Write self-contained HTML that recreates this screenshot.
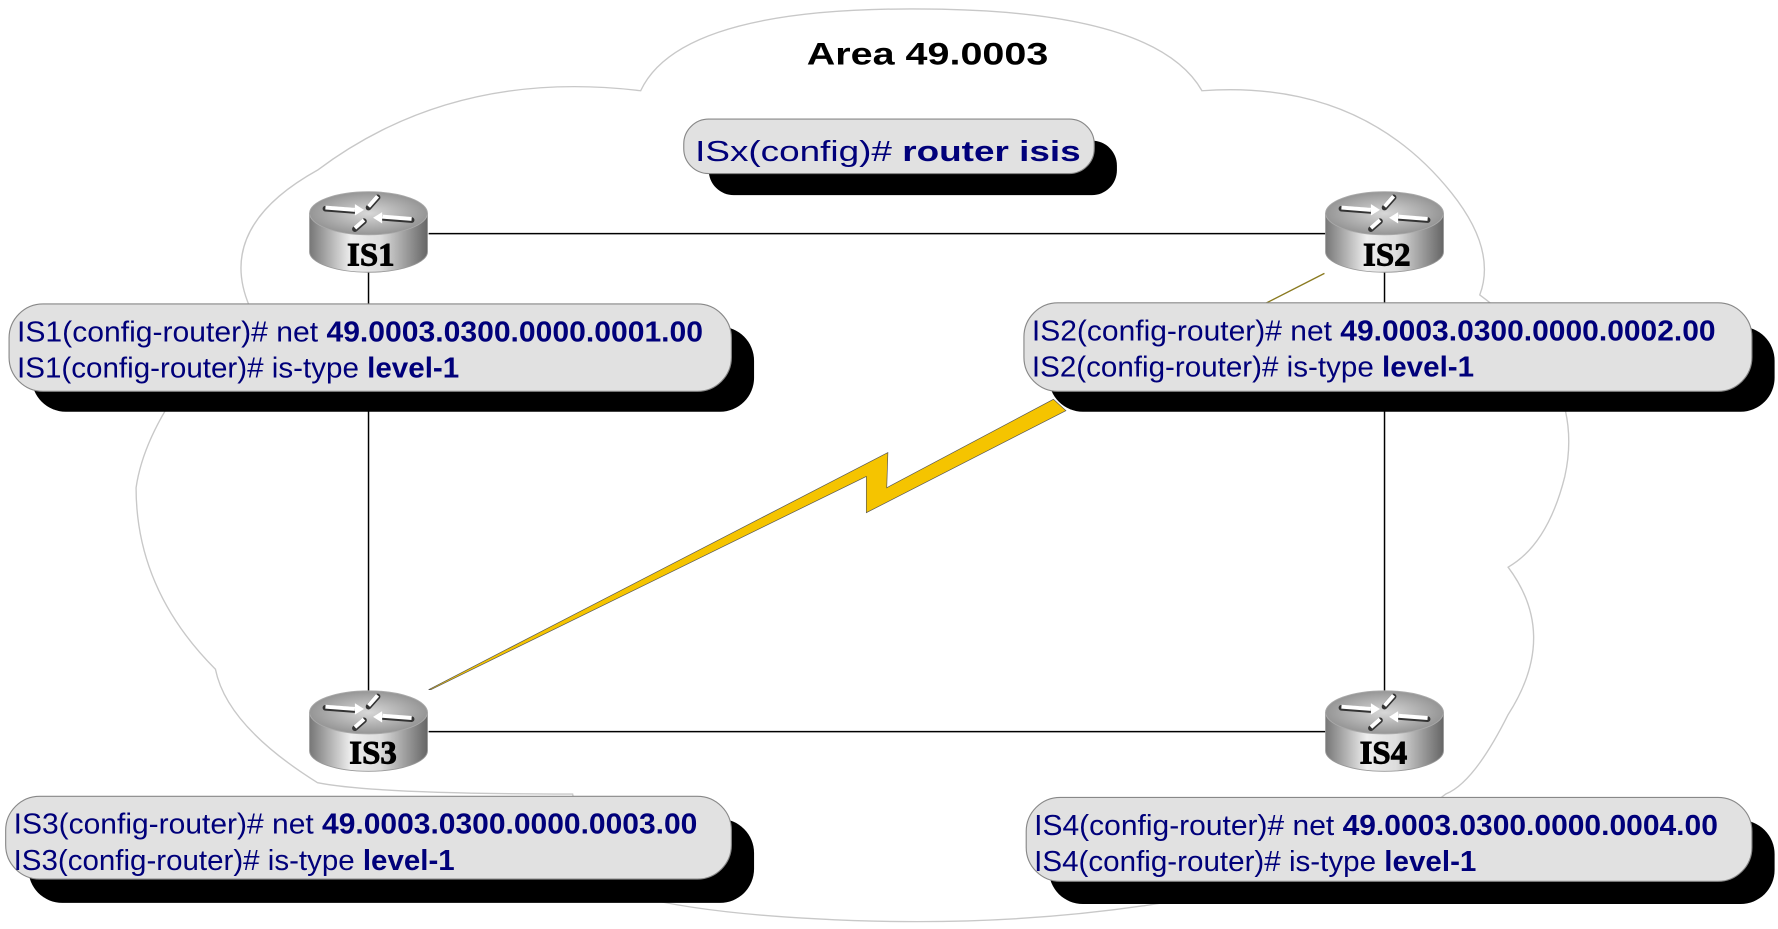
<!DOCTYPE html>
<html><head><meta charset="utf-8"><style>
html,body{margin:0;padding:0;background:#fff;}
svg{display:block;}
.t{font-family:"Liberation Sans",Arial,sans-serif;fill:#00007a;font-size:25px;}
.b{font-weight:bold;}
.r{font-family:"Liberation Serif",serif;font-weight:bold;font-size:29px;fill:#000;stroke:#000;stroke-width:0.8;text-anchor:middle;}
</style></head><body>
<svg width="1778" height="929" viewBox="0 0 1568 819" preserveAspectRatio="none" xmlns="http://www.w3.org/2000/svg">
<defs>
<linearGradient id="g" x1="0" x2="1" y1="0" y2="0">
<stop offset="0" stop-color="#777"/><stop offset="0.35" stop-color="#eee"/><stop offset="0.6" stop-color="#ddd"/><stop offset="1" stop-color="#666"/>
</linearGradient>
<radialGradient id="tg" cx="0.5" cy="0.5" r="0.6">
<stop offset="0" stop-color="#d8d8d8"/><stop offset="1" stop-color="#888"/>
</radialGradient>
<g id="rt">
<path d="M-52,-17 L-52,17 A52,18 0 0 0 52,17 L52,-17 Z" fill="url(#g)" stroke="#999" stroke-width="0.8"/>
<ellipse cx="0" cy="-17" rx="52" ry="19" fill="url(#tg)" stroke="#aaa" stroke-width="0.8"/>
<g stroke="#333" stroke-width="5" fill="none" stroke-linecap="round">
<path d="M-38,-21 L-12,-19"/><path d="M12,-13 L38,-11"/><path d="M8,-31 L0,-22"/><path d="M-4,-10 L-12,-3"/>
</g>
<g stroke="#fff" stroke-width="3.5" fill="none">
<path d="M-38,-22 L-12,-20"/><path d="M12,-14 L38,-12"/><path d="M8,-32 L0,-23"/><path d="M-4,-11 L-12,-4"/>
</g>
<g fill="#fff"><polygon points="-12,-25 -4,-20 -12,-15"/><polygon points="12,-18 4,-13 12,-8"/></g>
</g>
</defs>
<path d="M220,270 Q190,200 280,150 Q400,60 565,80 Q600,5 820,8 Q1020,10 1060,80 Q1200,70 1280,170 Q1320,220 1305,260 Q1400,330 1380,420 Q1365,480 1330,500 Q1375,560 1330,630 Q1300,690 1275,700 Q1200,760 1060,790 Q900,820 720,810 Q620,805 560,790 Q520,780 505,700 Q330,700 280,690 Q200,640 190,590 Q120,520 120,430 Q130,360 220,270 Z" fill="#fff" stroke="#c8c8c8" stroke-width="1.2"/>
<text x="818" y="57" text-anchor="middle" font-family="Liberation Sans,sans-serif" font-weight="bold" font-size="28" textLength="213" lengthAdjust="spacingAndGlyphs">Area 49.0003</text>
<g stroke="#000" stroke-width="1.3">
<line x1="378" y1="206" x2="1170" y2="206"/>
<line x1="378" y1="645" x2="1170" y2="645"/>
<line x1="325" y1="240" x2="325" y2="610"/>
<line x1="1221" y1="240" x2="1221" y2="610"/>
</g>
<line x1="1168" y1="241" x2="1115" y2="268" stroke="#8a7a20" stroke-width="1.2"/>
<polygon points="378,608 783,399 782,430 929,352 940,362 764,452 764,420 380,608" fill="#f5c400" stroke="#555" stroke-width="0.6"/>
<rect x="625" y="124" width="360" height="48" rx="22" fill="#000"/>
<rect x="603" y="105" width="362" height="48" rx="22" fill="#e1e1e1" stroke="#888" stroke-width="1"/>
<text class="t" x="613" y="142" font-size="30" textLength="340" lengthAdjust="spacingAndGlyphs">ISx(config)# <tspan class="b">router isis</tspan></text>
<rect x="28" y="288" width="637" height="75" rx="30" fill="#000"/>
<rect x="8" y="268" width="637" height="77" rx="30" fill="#e1e1e1" stroke="#888"/>
<text class="t" x="15" y="301" textLength="605" lengthAdjust="spacingAndGlyphs">IS1(config-router)# net <tspan class="b">49.0003.0300.0000.0001.00</tspan></text>
<text class="t" x="15" y="333" textLength="390" lengthAdjust="spacingAndGlyphs">IS1(config-router)# is-type <tspan class="b">level-1</tspan></text>
<rect x="925" y="288" width="640" height="75" rx="30" fill="#000"/>
<rect x="903" y="267" width="642" height="78" rx="30" fill="#e1e1e1" stroke="#888"/>
<text class="t" x="910" y="300" textLength="603" lengthAdjust="spacingAndGlyphs">IS2(config-router)# net <tspan class="b">49.0003.0300.0000.0002.00</tspan></text>
<text class="t" x="910" y="332" textLength="390" lengthAdjust="spacingAndGlyphs">IS2(config-router)# is-type <tspan class="b">level-1</tspan></text>
<rect x="25" y="722" width="640" height="74" rx="30" fill="#000"/>
<rect x="5" y="702" width="640" height="73" rx="30" fill="#e1e1e1" stroke="#888"/>
<text class="t" x="12" y="735" textLength="603" lengthAdjust="spacingAndGlyphs">IS3(config-router)# net <tspan class="b">49.0003.0300.0000.0003.00</tspan></text>
<text class="t" x="12" y="767" textLength="389" lengthAdjust="spacingAndGlyphs">IS3(config-router)# is-type <tspan class="b">level-1</tspan></text>
<rect x="925" y="723" width="640" height="74" rx="30" fill="#000"/>
<rect x="905" y="703" width="640" height="74" rx="30" fill="#e1e1e1" stroke="#888"/>
<text class="t" x="912" y="736" textLength="603" lengthAdjust="spacingAndGlyphs">IS4(config-router)# net <tspan class="b">49.0003.0300.0000.0004.00</tspan></text>
<text class="t" x="912" y="768" textLength="390" lengthAdjust="spacingAndGlyphs">IS4(config-router)# is-type <tspan class="b">level-1</tspan></text>
<use href="#rt" x="325" y="205"/>
<text class="r" x="327" y="234">IS1</text>
<use href="#rt" x="1221" y="205"/>
<text class="r" x="1223" y="234">IS2</text>
<use href="#rt" x="325" y="645"/>
<text class="r" x="329" y="673">IS3</text>
<use href="#rt" x="1221" y="645"/>
<text class="r" x="1220" y="673">IS4</text>
</svg>
</body></html>
